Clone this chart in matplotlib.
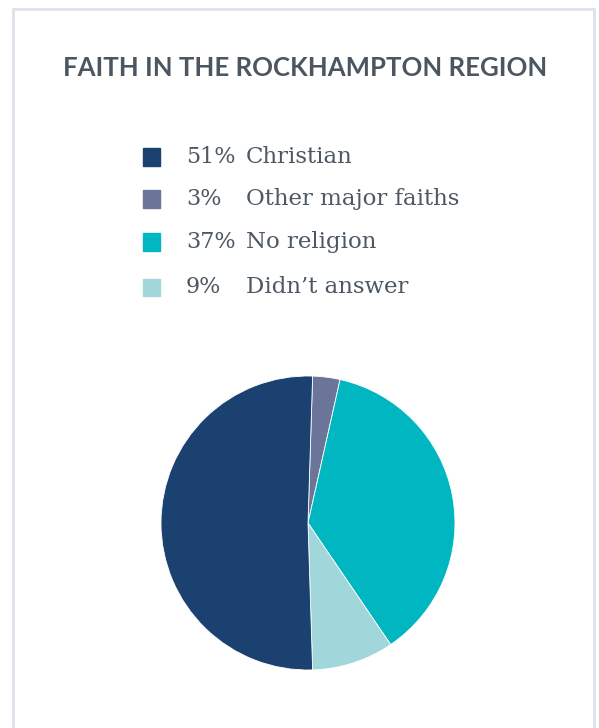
import matplotlib
matplotlib.use("Agg")
import matplotlib.pyplot as plt
from matplotlib.patches import Rectangle

# data
labels = ["Christian", "Other major faiths", "No religion", "Didn\u2019t answer"]
pcts = [51, 3, 37, 9]
colors = ["#1a4170", "#6b7599", "#00b7c1", "#a1d6db"]
# pie goes clockwise from the top: other, no religion, didn't answer, christian
pie_order = [1, 2, 3, 0]

W, H = 599, 728
fig = plt.figure(figsize=(W / 100, H / 100), dpi=100)
fig.patch.set_facecolor("white")

def px(x, y):
    return x / W, 1 - y / H

# card border
fig.patches.append(Rectangle(px(13, 760), 581 / W, 751 / H, transform=fig.transFigure,
                             fill=False, edgecolor="#dde1eb", lw=2))

fig.text(*px(305, 68), "FAITH IN THE ROCKHAMPTON REGION", ha="center", va="center",
         fontsize=18.5, fontweight="bold", family="Lato", color="#4b5660")

txt_color = "#4d5863"
row_y = [157, 199, 242, 287]
for i, (lab, p, c) in enumerate(zip(labels, pcts, colors)):
    y = row_y[i]
    fig.patches.append(Rectangle(px(143, y + 8.5), 17 / W, 17 / H,
                                 transform=fig.transFigure, color=c))
    fig.text(*px(186, y), f"{p}%", ha="left", va="center", fontsize=16,
             family="DejaVu Serif", color=txt_color)
    fig.text(*px(246, y), lab, ha="left", va="center", fontsize=16.5,
             family="DejaVu Serif", color=txt_color)

ax = fig.add_axes([161 / W, 1 - 670 / H, 294 / W, 294 / H])
ax.pie([pcts[k] for k in pie_order], colors=[colors[k] for k in pie_order],
       startangle=88.2, counterclock=False,
       wedgeprops=dict(linewidth=0.6, edgecolor="white"))
ax.set_xlim(-1, 1)
ax.set_ylim(-1, 1)
ax.set_aspect("equal")
ax.axis("off")

fig.savefig("out.png", dpi=100)
